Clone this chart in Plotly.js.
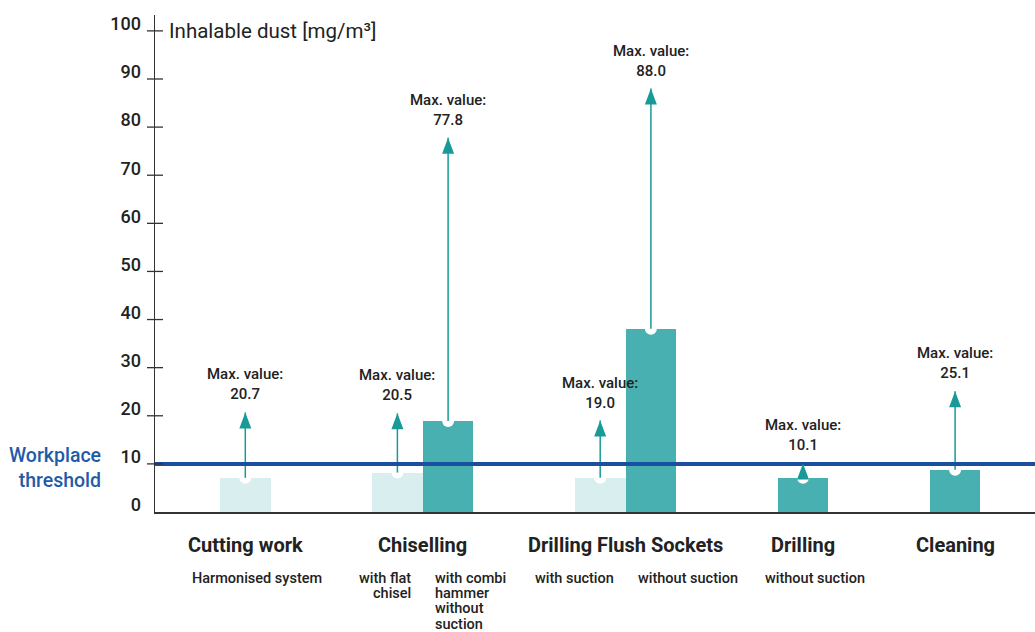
<!DOCTYPE html>
<html>
<head>
<meta charset="utf-8">
<script src="https://cdn.plot.ly/plotly-3.0.1.min.js"></script>
<style>html,body{margin:0;padding:0;background:#fff;}</style>
</head>
<body>
<div id="chart" style="width:1035px;height:632px;"></div>
<script>
// ---- data ----
const groups = ['Cutting work', 'Chiselling', 'Drilling Flush Sockets', 'Drilling', 'Cleaning'];
const barGroup = [0, 1, 1, 2, 2, 3, 4];
const subLabels = ['Harmonised system', 'with flat<br>chisel', 'with combi<br>hammer<br>without<br>suction',
                   'with suction', 'without suction', 'without suction', ''];
const extraction = ['yes', 'yes', 'no', 'yes', 'no', 'no', 'no'];
const meanValues = [7.1, 8.2, 18.9, 7.1, 38.1, 7.1, 8.8];
const maxValues = [20.7, 20.5, 77.8, 19.0, 88.0, 10.1, 25.1];
const threshold = 10;
const yTicks = [0, 10, 20, 30, 40, 50, 60, 70, 80, 90, 100];
const yTitle = 'Inhalable dust [mg/m³]';
const thresholdLabel = 'Workplace<br>threshold';
const maxLabel = 'Max. value:';

// ---- styles ----
const FONT = 'Roboto, "Noto Sans", sans-serif';
const TXT = '#222222';
const LIGHT = '#d9eeef';
const DARK = '#48b0b1';
const ARROW = '#189a98';
const BLUE_LINE = '#1a4f9d';
const BLUE_TXT = '#1f5ba7';

// slot positions: one slot per bar, two empty slots between groups
const slots = [];
let s = 1;
barGroup.forEach((g, i) => {
  if (i > 0) s += (g !== barGroup[i - 1]) ? 3 : 1;
  slots.push(s);
});

const barColors = extraction.map(e => e === 'yes' ? LIGHT : DARK);

const traces = [
  {
    type: 'bar', x: slots, y: meanValues, width: 1.0,
    marker: {color: barColors, line: {width: 0}},
    hoverinfo: 'skip', showlegend: false
  },
  {
    type: 'scatter', mode: 'markers', x: slots, y: meanValues,
    marker: {color: '#ffffff', size: 12, line: {width: 0}},
    hoverinfo: 'skip', showlegend: false, cliponaxis: false
  }
];

const shapes = [];
// arrow stems
slots.forEach((x, i) => {
  shapes.push({type: 'line', xref: 'x', yref: 'y', x0: x, x1: x, y0: meanValues[i], y1: maxValues[i],
    line: {color: ARROW, width: 1.5}, layer: 'above'});
});
// threshold line
shapes.push({type: 'line', xref: 'paper', yref: 'y', x0: 0, x1: 1, y0: threshold, y1: threshold,
  line: {color: BLUE_LINE, width: 4}, layer: 'above'});
// arrow heads
slots.forEach((x, i) => {
  shapes.push({type: 'path', xref: 'x', yref: 'y', xsizemode: 'pixel', ysizemode: 'pixel',
    xanchor: x, yanchor: maxValues[i], path: 'M-6,-16L6,-16L0,0Z',
    fillcolor: ARROW, line: {width: 0}, layer: 'above'});
});
// crossing tick marks on y axis
yTicks.filter(v => v > 0).forEach(v => {
  shapes.push({type: 'line', xref: 'paper', yref: 'y', xsizemode: 'pixel', xanchor: 0,
    x0: -8, x1: 8, y0: v, y1: v, line: {color: '#333333', width: 1.3}, layer: 'above'});
});

const annotations = [];
// y-axis title
annotations.push({xref: 'paper', yref: 'y', x: 0, y: 100, xanchor: 'left', yanchor: 'middle', xshift: 12,
  text: yTitle, showarrow: false, font: {family: FONT, size: 20.5, color: TXT}});
// threshold label
annotations.push({xref: 'paper', yref: 'y', x: 0, y: threshold, xanchor: 'right', yanchor: 'middle',
  xshift: -52, yshift: -4.5, align: 'right', text: thresholdLabel, showarrow: false,
  font: {family: FONT, size: 19.5, color: BLUE_TXT, weight: 500}});
// max value labels
slots.forEach((x, i) => {
  annotations.push({xref: 'x', yref: 'y', x: x, y: maxValues[i], xanchor: 'center', yanchor: 'bottom',
    yshift: 7, text: maxLabel + '<br>' + maxValues[i].toFixed(1), showarrow: false, align: 'center',
    font: {family: FONT, size: 15, color: TXT, weight: 500}});
});
// group titles
groups.forEach((g, gi) => {
  const xs = slots.filter((_, i) => barGroup[i] === gi);
  const cx = xs.reduce((a, b) => a + b, 0) / xs.length;
  annotations.push({xref: 'x', yref: 'paper', x: cx, y: 0, xanchor: 'center', yanchor: 'middle',
    yshift: -33, text: g, showarrow: false, font: {family: FONT, size: 20, color: TXT, weight: 700}});
});
// sub labels (one annotation per line for tight line spacing)
slots.forEach((x, i) => {
  if (!subLabels[i]) return;
  const members = slots.filter((_, j) => barGroup[j] === barGroup[i]);
  let ax, anchor, xshift;
  if (members.length === 1) { ax = x; anchor = 'center'; xshift = 12; }
  else if (x === members[0]) { ax = x + 0.5; anchor = 'right'; xshift = -10; }
  else { ax = x - 0.5; anchor = 'left'; xshift = 10; }
  const lines = subLabels[i].split('<br>');
  lines.forEach((ln, k) => {
    annotations.push({xref: 'x', yref: 'paper', x: ax, y: 0, xanchor: anchor, yanchor: 'middle',
      xshift: xshift, yshift: -(66 + k * 15.4), text: ln, showarrow: false,
      font: {family: FONT, size: 14.5, color: TXT, weight: 500}});
  });
});

const layout = {
  width: 1035, height: 632,
  margin: {l: 155, r: 0, t: 15, b: 120, pad: 0},
  paper_bgcolor: '#ffffff', plot_bgcolor: '#ffffff',
  showlegend: false,
  font: {family: FONT, color: TXT},
  xaxis: {range: [-0.781, 16.576], showline: true, linecolor: '#333333', linewidth: 1.5,
    showgrid: false, zeroline: false, showticklabels: false, ticks: '', fixedrange: true},
  yaxis: {range: [0, 103.3], showline: true, linecolor: '#333333', linewidth: 1.5,
    showgrid: false, zeroline: false, ticks: '', tickvals: yTicks, ticktext: yTicks.map(String),
    tickfont: {family: FONT, size: 18, color: TXT, weight: 500},
    ticklabelshift: -7, ticklabelstandoff: 9, fixedrange: true},
  shapes: shapes,
  annotations: annotations,
  bargap: 0
};

Plotly.newPlot('chart', traces, layout, {displayModeBar: false, staticPlot: true});
</script>
</body>
</html>
